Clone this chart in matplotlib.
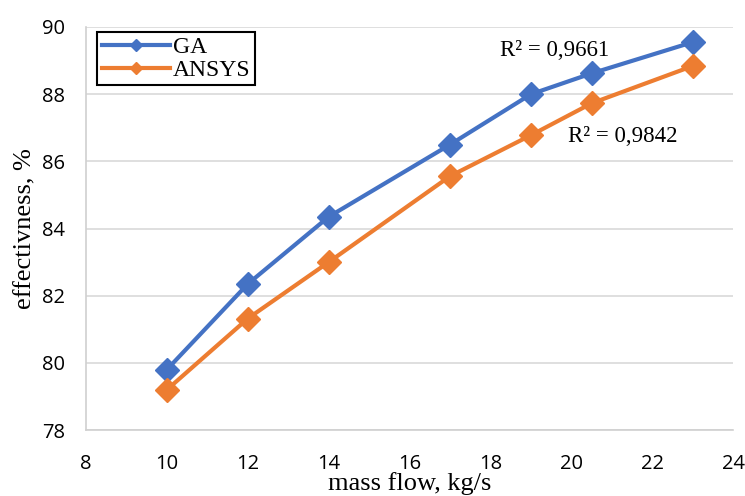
import matplotlib.pyplot as plt

# data
mass_flow = [10, 12, 14, 17, 19, 20.5, 23]
ga = [79.8, 82.35, 84.35, 86.5, 88.0, 88.62, 89.55]
ansys = [79.2, 81.32, 83.0, 85.56, 86.78, 87.73, 88.84]
r2_labels = ['R² = 0,9661', 'R² = 0,9842']

fig = plt.figure(figsize=(7.45, 4.96), dpi=100)
ax = fig.add_axes([0.1154, 0.133, 0.869, 0.8126])

ax.plot(mass_flow, ga, color='#4472C4', lw=3, marker='D', ms=12, label='GA', zorder=3)
ax.plot(mass_flow, ansys, color='#ED7D31', lw=3, marker='D', ms=12, label='ANSYS', zorder=3)

ax.set_xlim(8, 24)
ax.set_ylim(78, 90)
ax.set_xticks(range(8, 25, 2))
ax.set_yticks(range(78, 91, 2))
ax.grid(axis='y', color='#d9d9d9', lw=1.2)
ax.set_axisbelow(True)
for s in ['top', 'right']:
    ax.spines[s].set_visible(False)
for s in ['left', 'bottom']:
    ax.spines[s].set_color('#d0d0d0')
    ax.spines[s].set_linewidth(1.2)
ax.tick_params(length=0, labelsize=14.5, labelfontfamily='Open Sans')
ax.tick_params(axis='x', pad=17)
ax.tick_params(axis='y', pad=15)

ax.set_xlabel('mass flow, kg/s', fontsize=19, family='Liberation Serif', va='center')
ax.set_ylabel('effectivness, %', fontsize=19, family='Liberation Serif', va='center')
ax.xaxis.set_label_coords(0.5, -0.132)
ax.yaxis.set_label_coords(-0.094, 0.5)

# R² annotations (pixel positions from the reference)
fig.text(555 / 745, 1 - 51 / 496, r2_labels[0], fontsize=16.5, family='Liberation Serif',
         ha='center', va='center')
fig.text(623 / 745, 1 - 136 / 496, r2_labels[1], fontsize=16.5, family='Liberation Serif',
         ha='center', va='center')

leg = ax.legend(loc='upper left', bbox_to_anchor=(0.017, 0.988),
                prop={'family': 'Liberation Serif', 'size': 17}, markerscale=0.55,
                fancybox=False, framealpha=1, edgecolor='black', handlelength=2.9,
                borderpad=0.2, labelspacing=0.05, handletextpad=0.1, borderaxespad=0)
leg.get_frame().set_linewidth(1.5)

fig.savefig('out.png', dpi=100)
